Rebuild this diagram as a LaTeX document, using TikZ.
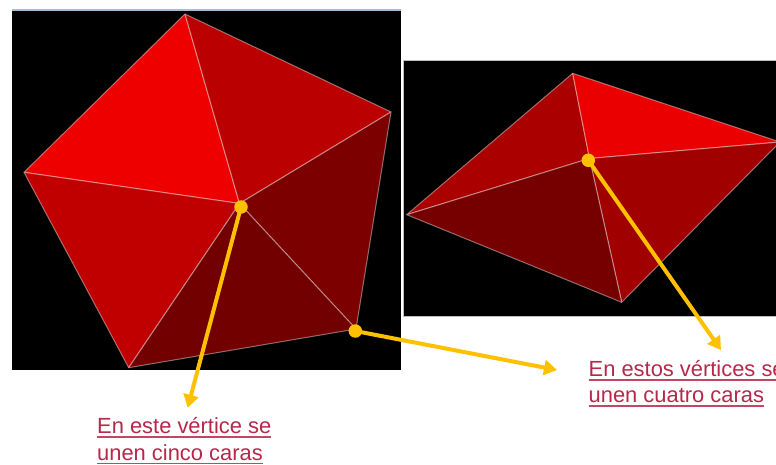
\documentclass[tikz,border=0pt]{standalone}
\usepackage{fontspec}
\setmainfont{Liberation Sans}
\usetikzlibrary{arrows.meta}
\definecolor{arrowgold}{HTML}{FFC000}
\definecolor{labelred}{HTML}{B8274A}
\newcommand{\ulined}[1]{\setbox0\hbox{#1}\rlap{\textcolor{labelred!85!white}{\rule[-4.2pt]{\wd0}{1.6pt}}}\box0}
\tikzset{
  x=1pt,y=-1pt,
  face/.style={draw=white,draw opacity=.42,line width=1pt,line join=round},
  panel/.style={fill=black},
  vdot/.style={circle,fill=arrowgold,inner sep=0pt,minimum size=13.5pt},
  pointer/.style={draw=arrowgold,line width=4pt,-{Triangle[length=13pt,width=15pt]},shorten <=-3pt},
  callout/.style={font=\fontsize{21.9pt}{26.4pt}\selectfont,text=labelred,align=left,inner sep=0pt,anchor=north west}
}
\begin{document}
\begin{tikzpicture}
\useasboundingbox (0,0) rectangle (776,465);
\clip (0,0) rectangle (776,465);
% left panel
\fill[color={rgb,255:red,170;green,188;blue,208}] (11.5,9.5) rectangle (400.5,11.5);
\fill[panel] (11.5,11) rectangle (400.5,369.5);
\coordinate (LT) at (185,14);
\coordinate (LR) at (391,112);
\coordinate (LL) at (356,329);
\coordinate (LB) at (128.7,367.7);
\coordinate (LW) at (24,172.3);
\coordinate (LC) at (239.5,203.5);
\path[face,fill={rgb,255:red,238;green,0;blue,0}] (LW) -- (LT) -- (LC) -- cycle;
\path[face,fill={rgb,255:red,186;green,0;blue,0}] (LT) -- (LR) -- (LC) -- cycle;
\path[face,fill={rgb,255:red,192;green,0;blue,0}] (LW) -- (LC) -- (LB) -- cycle;
\path[face,fill={rgb,255:red,125;green,0;blue,0}] (LR) -- (LL) -- (LC) -- cycle;
\path[face,fill={rgb,255:red,115;green,0;blue,0}] (LC) -- (LL) -- (LB) -- cycle;
% right panel
\draw[panel,draw=gray!50,line width=.6pt] (403.5,60) rectangle (780,316);
\coordinate (RT) at (572.7,73.3);
\coordinate (RE) at (780,142);
\coordinate (RB) at (621.7,302.3);
\coordinate (RW) at (406.7,214.7);
\coordinate (RC) at (589.5,158.5);
\path[face,fill={rgb,255:red,170;green,0;blue,0}] (RW) -- (RT) -- (RC) -- cycle;
\path[face,fill={rgb,255:red,234;green,0;blue,0}] (RT) -- (RE) -- (RC) -- cycle;
\path[face,fill={rgb,255:red,160;green,0;blue,0}] (RC) -- (RE) -- (RB) -- cycle;
\path[face,fill={rgb,255:red,118;green,0;blue,0}] (RW) -- (RC) -- (RB) -- cycle;
% vertex dots
\node[vdot] (d1) at (241,207) {};
\node[vdot] (d2) at (355.3,331) {};
\node[vdot] (d3) at (588.3,160.3) {};
% free arrow ends
\coordinate (e1) at (187.7,407.7);
\coordinate (e2) at (557,370);
\coordinate (e3) at (721,350);
\draw[pointer] (d1) -- (e1);
\draw[pointer] (d2) -- (e2);
\draw[pointer] (d3) -- (e3);
% labels
\node[callout] (t1) at (97,417.5) {\ulined{En este vértice se}\\\ulined{unen cinco caras}};
\node[callout] (t2) at (588.5,360) {\ulined{En estos vértices se}\\\ulined{unen cuatro caras}};
\end{tikzpicture}
\end{document}
